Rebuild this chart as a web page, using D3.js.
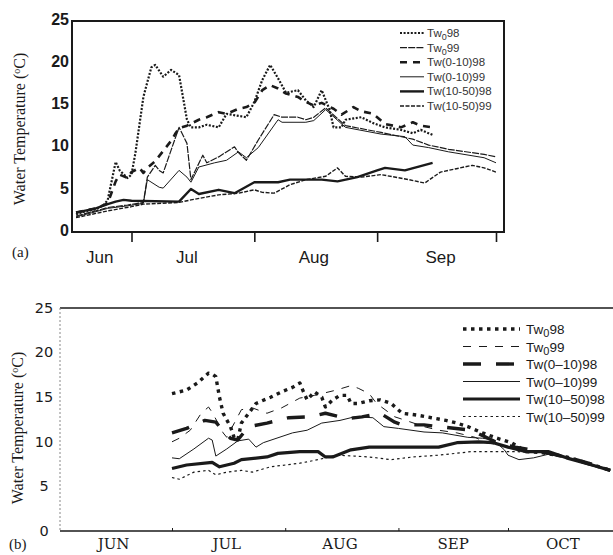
<!DOCTYPE html>
<html><head><meta charset="utf-8">
<script src="https://cdn.jsdelivr.net/npm/d3@7"></script>
<style>body{margin:0;background:#fff}svg{display:block}</style>
</head><body>
<script>
const parse = d3.timeParse("%m-%d");

// ---------- Panel (a) data ----------
const a_Tw0_98 = [["06-17",2.1],["06-19",2.4],["06-22",2.7],["06-24",3.2],["06-25",3.8],["06-27",8.3],["06-28",7.3],["06-30",6.4],["07-01",6.8],["07-02",9.4],["07-04",16.0],["07-06",19.5],["07-07",19.8],["07-09",18.4],["07-11",19.2],["07-13",18.6],["07-15",13.3],["07-16",12.4],["07-18",12.4],["07-20",12.7],["07-23",12.4],["07-25",14.0],["07-30",13.6],["08-01",15.4],["08-03",18.0],["08-05",19.8],["08-07",18.2],["08-09",16.5],["08-12",16.8],["08-14",15.6],["08-16",14.8],["08-18",16.8],["08-20",14.5],["08-21",12.4],["08-23",12.4],["08-24",13.3],["08-28",13.6],["08-31",12.9],["09-03",12.4],["09-07",12.1],["09-10",11.7],["09-12",12.1],["09-15",11.5]];
const a_Tw0_99 = [["06-17",1.9],["06-22",2.5],["06-25",2.9],["06-30",3.2],["07-04",3.5],["07-05",6.5],["07-07",7.9],["07-08",7.3],["07-09",7.0],["07-11",9.7],["07-13",12.4],["07-15",10.5],["07-16",6.2],["07-19",9.1],["07-20",8.2],["07-23",8.9],["07-27",10.1],["07-28",9.4],["07-30",8.5],["08-02",10.9],["08-06",13.9],["08-08",13.6],["08-12",13.6],["08-14",13.3],["08-16",13.6],["08-19",14.7],["08-24",12.6],["09-02",11.8],["09-10",11.0],["09-14",10.3],["09-19",9.8],["09-28",9.2],["10-01",8.9]];
const a_Tw010_98 = [["06-17",2.3],["06-22",2.8],["06-25",3.4],["06-27",6.0],["06-28",6.8],["06-30",6.4],["07-01",7.1],["07-03",7.6],["07-04",7.0],["07-05",7.6],["07-07",8.4],["07-09",9.6],["07-11",10.8],["07-12",11.6],["07-13",12.3],["07-15",12.6],["07-18",13.3],["07-20",13.6],["07-23",14.2],["07-25",14.0],["07-28",14.6],["07-30",14.8],["08-01",15.3],["08-03",16.8],["08-05",17.4],["08-07",17.0],["08-09",16.4],["08-12",16.0],["08-14",15.4],["08-16",15.0],["08-18",15.3],["08-21",14.6],["08-23",13.9],["08-26",14.8],["08-28",14.3],["08-31",14.0],["09-03",12.8],["09-07",12.4],["09-10",13.0],["09-12",12.6],["09-15",12.4]];
const a_Tw010_99 = [["06-17",1.8],["06-22",2.4],["06-25",2.8],["06-30",3.1],["07-04",3.4],["07-05",6.2],["07-08",5.3],["07-09",5.2],["07-13",7.3],["07-15",6.5],["07-16",5.9],["07-18",7.7],["07-22",8.2],["07-25",8.5],["07-28",9.5],["07-30",8.8],["08-02",10.0],["08-07",13.3],["08-08",13.0],["08-14",13.0],["08-16",13.2],["08-19",14.5],["08-24",12.4],["09-02",11.6],["09-08",11.3],["09-10",10.3],["09-14",10.0],["09-19",9.5],["09-28",8.8],["10-01",8.2]];
const a_Tw1050_98 = [["06-17",2.3],["06-22",2.8],["06-25",3.3],["06-27",3.6],["06-29",3.8],["07-01",3.7],["07-13",3.6],["07-16",5.1],["07-18",4.5],["07-23",5.0],["07-27",4.6],["08-01",5.9],["08-07",5.9],["08-10",6.2],["08-18",6.2],["08-22",6.0],["08-27",6.5],["09-01",7.3],["09-03",7.6],["09-08",7.3],["09-15",8.2]];
const a_Tw1050_99 = [["06-17",1.7],["06-22",2.2],["06-25",2.5],["07-01",3.0],["07-04",3.3],["07-13",3.5],["07-16",3.8],["07-23",4.4],["07-28",4.6],["08-01",5.0],["08-03",4.7],["08-06",4.6],["08-10",5.6],["08-14",6.2],["08-19",6.6],["08-22",7.6],["08-24",6.6],["08-28",6.5],["09-02",6.8],["09-09",6.2],["09-13",5.8],["09-17",7.1],["09-21",7.5],["09-25",7.9],["09-28",7.6],["10-01",7.1]];

// ---------- Panel (b) data ----------
const b_Tw0_98 = [["07-01",15.4],["07-05",15.8],["07-08",16.6],["07-11",17.7],["07-12",17.6],["07-13",17.3],["07-14",15.0],["07-15",13.2],["07-17",11.7],["07-18",10.5],["07-19",10.2],["07-20",12.1],["07-22",13.2],["07-24",14.3],["07-28",15.0],["07-31",15.6],["08-03",16.1],["08-05",16.6],["08-06",15.6],["08-07",14.7],["08-09",15.6],["08-11",15.0],["08-12",13.9],["08-14",14.7],["08-16",15.2],["08-18",15.2],["08-19",14.3],["08-21",14.3],["08-24",14.6],["08-27",14.7],["08-30",14.3],["09-02",13.2],["09-06",13.0],["09-10",12.7],["09-14",12.4],["09-17",12.1],["09-20",11.7],["09-24",11.0],["09-28",10.4],["10-02",9.9],["10-06",8.9],["10-10",8.8],["10-17",8.3],["10-23",7.6],["10-26",7.2],["10-29",6.8]];
const b_Tw0_99 = [["07-01",10.0],["07-03",10.4],["07-06",11.3],["07-09",13.2],["07-11",13.9],["07-12",13.3],["07-14",11.8],["07-15",11.0],["07-16",10.5],["07-20",13.6],["07-23",13.8],["07-27",13.2],["07-31",13.8],["08-05",14.9],["08-09",15.2],["08-15",15.8],["08-19",16.3],["08-21",16.0],["08-24",15.4],["08-26",14.3],["08-31",12.8],["09-03",12.4],["09-08",11.7],["09-12",11.3],["09-17",11.0],["09-22",10.5],["09-25",9.9],["10-02",9.4],["10-10",8.8],["10-17",8.2],["10-23",7.5],["10-29",6.8]];
const b_Tw010_98 = [["07-01",11.0],["07-05",11.5],["07-10",12.4],["07-13",12.2],["07-15",11.2],["07-17",10.4],["07-19",10.2],["07-22",11.7],["07-27",12.1],["08-02",12.7],["08-08",12.8],["08-12",13.2],["08-18",12.6],["08-22",12.8],["08-27",13.2],["08-31",12.2],["09-02",11.9],["09-08",11.9],["09-12",11.7],["09-21",11.3],["09-25",10.5],["09-28",9.9],["10-03",9.4],["10-10",8.9],["10-17",8.3],["10-23",7.6],["10-29",6.8]];
const b_Tw010_99 = [["07-01",8.2],["07-03",8.1],["07-07",9.2],["07-11",10.4],["07-12",10.2],["07-13",8.4],["07-16",9.2],["07-19",10.1],["07-22",10.3],["07-24",9.4],["07-26",9.9],["08-03",11.0],["08-07",11.3],["08-11",12.1],["08-16",12.4],["08-20",12.8],["08-25",12.7],["08-28",11.7],["09-01",11.5],["09-08",11.1],["09-13",11.0],["09-20",10.5],["09-24",10.4],["09-27",10.2],["09-30",9.1],["10-01",8.5],["10-04",8.0],["10-08",8.2],["10-12",8.6],["10-17",8.2],["10-23",7.4],["10-29",6.8]];
const b_Tw1050_98 = [["07-01",7.0],["07-05",7.4],["07-12",7.7],["07-14",7.2],["07-18",7.6],["07-20",8.0],["07-27",8.3],["07-30",8.7],["08-05",8.9],["08-10",8.9],["08-12",8.3],["08-14",8.3],["08-19",9.1],["08-24",9.4],["08-29",9.4],["09-05",9.4],["09-12",9.4],["09-17",9.9],["09-23",10.0],["09-27",9.9],["10-01",9.4],["10-06",8.9],["10-12",8.9],["10-17",8.2],["10-24",7.4],["10-29",6.8]];
const b_Tw1050_99 = [["07-01",6.0],["07-03",5.8],["07-07",6.6],["07-11",6.8],["07-13",6.3],["07-16",6.6],["07-20",6.8],["07-23",6.6],["07-28",7.2],["08-05",7.6],["08-10",8.0],["08-15",8.5],["08-20",8.4],["08-24",8.3],["08-30",8.0],["09-05",8.3],["09-12",8.5],["09-21",8.9],["09-28",8.9],["10-03",8.9],["10-10",8.8],["10-17",8.2],["10-23",7.5],["10-29",6.8]];

// ---------- labels ----------
const legendA = [["Tw","0","98"],["Tw","0","99"],["Tw(0-10)98"],["Tw(0-10)99"],["Tw(10-50)98"],["Tw(10-50)99"]];
const legendB = [["Tw","0","98"],["Tw","0","99"],["Tw(0\u201310)98"],["Tw(0\u201310)99"],["Tw(10\u201350)98"],["Tw(10\u201350)99"]];
const yTicks = [0,5,10,15,20,25];
const monthTicks = ["07-01","08-01","09-01","10-01"];
const monthLabelsA = [["06-23","Jun"],["07-15","Jul"],["08-16","Aug"],["09-17","Sep"]];
const monthLabelsB = [["06-15","JUN"],["07-16","JUL"],["08-16","AUG"],["09-16","SEP"],["10-16","OCT"]];

const W = 613, H = 555;
const svg = d3.select("body").append("svg").attr("width", W).attr("height", H);
const ink = "#1a1a1a";

// ================= Panel (a) =================
const A = {l:72, r:504, t:21, b:232};
const xa = d3.scaleTime().domain([parse("07-01"), parse("10-01")]).range([131.5, 496]);
const ya = d3.scaleLinear().domain([0,25]).range([A.b, A.t]);
const ga = svg.append("g");
ga.append("defs").append("clipPath").attr("id","clipA").append("rect")
  .attr("x",A.l).attr("y",A.t).attr("width",A.r-A.l).attr("height",A.b-A.t);

const stylesA = [
  {w:2.2, d:"2,1.6"},
  {w:1.2, d:"7,1.2"},
  {w:2.6, d:"7,6"},
  {w:1.0, d:null},
  {w:2.4, d:null},
  {w:1.4, d:"4,1.5"}
];
const seriesA = [a_Tw0_98, a_Tw0_99, a_Tw010_98, a_Tw010_99, a_Tw1050_98, a_Tw1050_99];
const lineA = d3.line().x(d => xa(parse(d[0]))).y(d => ya(d[1]));
const pa = ga.append("g").attr("clip-path","url(#clipA)");
[5,4,3,1,2,0].forEach(i => {
  pa.append("path").datum(seriesA[i]).attr("d", lineA)
    .attr("fill","none").attr("stroke",ink).attr("stroke-width",stylesA[i].w)
    .attr("stroke-dasharray",stylesA[i].d).attr("stroke-linejoin","round");
});

ga.append("rect").attr("x",A.l).attr("y",A.t).attr("width",A.r-A.l).attr("height",A.b-A.t)
  .attr("fill","none").attr("stroke",ink).attr("stroke-width",2);

// x axis ticks (a)
const axA = ga.append("g").attr("transform",`translate(0,${A.b})`)
  .call(d3.axisBottom(xa).tickValues(monthTicks.map(parse)).tickSize(10).tickFormat(""));
axA.select(".domain").remove();
axA.selectAll(".tick line").attr("stroke",ink).attr("stroke-width",1.6);
ga.selectAll(".mla").data(monthLabelsA).enter().append("text")
  .attr("x", d => xa(parse(d[0]))).attr("y", 263)
  .attr("text-anchor","middle").attr("font-family","Liberation Sans, Arial, sans-serif")
  .attr("font-size",17).attr("fill",ink).text(d => d[1]);

// y axis labels (a)
const ayA = ga.append("g").attr("transform",`translate(${A.l-3},0)`)
  .call(d3.axisLeft(ya).tickValues(yTicks).tickSize(0).tickPadding(0));
ayA.select(".domain").remove();
ayA.selectAll(".tick text").attr("font-family","Liberation Sans, Arial, sans-serif")
  .attr("font-weight","bold").attr("font-size",16).attr("fill",ink).attr("dy","0.2em");

ga.append("text").attr("transform","translate(25,129) rotate(-90)")
  .attr("text-anchor","middle").attr("font-family","Liberation Serif, Times New Roman, serif")
  .attr("font-size",16).attr("fill",ink)
  .call(t => { t.append("tspan").text("Water Temperature (");
               t.append("tspan").attr("baseline-shift","super").attr("font-size",10).text("o");
               t.append("tspan").text("C)"); });
ga.append("text").attr("x",12).attr("y",257).attr("font-family","Liberation Serif, Times New Roman, serif")
  .attr("font-size",15).attr("fill",ink).text("(a)");

// legend (a)
const lgA = ga.append("g");
legendA.forEach((lab, i) => {
  const yy = 33 + i*14.6;
  lgA.append("line").attr("x1",400).attr("x2",424).attr("y1",yy).attr("y2",yy)
    .attr("stroke",ink).attr("stroke-width",stylesA[i].w).attr("stroke-dasharray",stylesA[i].d);
  const t = lgA.append("text").attr("x",427).attr("y",yy+4)
    .attr("font-family","Liberation Sans, Arial, sans-serif").attr("font-size",11.5).attr("fill","#333");
  if (lab.length === 3) {
    t.append("tspan").text(lab[0]);
    t.append("tspan").attr("baseline-shift","-30%").attr("font-size",9).text(lab[1]);
    t.append("tspan").text(lab[2]);
  } else t.text(lab[0]);
});

// ================= Panel (b) =================
const B = {l:60, r:616, t:308, b:531};
const xb = d3.scaleTime().domain([parse("07-01"), parse("10-01")]).range([172, 508]);
const yb = d3.scaleLinear().domain([0,25]).range([B.b, B.t]);
const gb = svg.append("g");

const stylesB = [
  {w:3.4, d:"3.5,4.5"},
  {w:1.0, d:"8,8"},
  {w:3.4, d:"18,15"},
  {w:1.0, d:null},
  {w:3.2, d:null},
  {w:1.2, d:"2.5,3"}
];
const seriesB = [b_Tw0_98, b_Tw0_99, b_Tw010_98, b_Tw010_99, b_Tw1050_98, b_Tw1050_99];
const lineB = d3.line().x(d => xb(parse(d[0]))).y(d => yb(d[1]));
[5,4,3,1,2,0].forEach(i => {
  gb.append("path").datum(seriesB[i]).attr("d", lineB)
    .attr("fill","none").attr("stroke",ink).attr("stroke-width",stylesB[i].w)
    .attr("stroke-dasharray",stylesB[i].d).attr("stroke-linejoin","round");
});

gb.append("line").attr("x1",B.l).attr("x2",B.r).attr("y1",B.t).attr("y2",B.t)
  .attr("stroke",ink).attr("stroke-width",1.6);
gb.append("line").attr("x1",B.l).attr("x2",B.r).attr("y1",B.b).attr("y2",B.b)
  .attr("stroke",ink).attr("stroke-width",1.6);
gb.append("line").attr("x1",B.l).attr("x2",B.l).attr("y1",B.t).attr("y2",B.b)
  .attr("stroke","#888").attr("stroke-width",1).attr("stroke-dasharray","2,2");

const axB = gb.append("g").attr("transform",`translate(0,${B.b})`)
  .call(d3.axisTop(xb).tickValues(monthTicks.map(parse)).tickSize(3).tickFormat(""));
axB.select(".domain").remove();
axB.selectAll(".tick line").attr("stroke",ink).attr("stroke-width",1);
gb.selectAll(".mlb").data(monthLabelsB).enter().append("text")
  .attr("x", d => xb(parse(d[0]))).attr("y", 549)
  .attr("text-anchor","middle").attr("font-family","DejaVu Serif, serif")
  .attr("font-size",15).attr("fill",ink).text(d => d[1]);

const ayB = gb.append("g").attr("transform",`translate(44,0)`)
  .call(d3.axisLeft(yb).tickValues(yTicks).tickSize(0).tickPadding(0));
ayB.select(".domain").remove();
ayB.selectAll(".tick text").attr("text-anchor","middle").attr("font-family","DejaVu Sans, sans-serif")
  .attr("font-size",14.5).attr("fill",ink).attr("dy","0.3em");

gb.append("text").attr("transform","translate(23,428) rotate(-90)")
  .attr("text-anchor","middle").attr("font-family","Liberation Serif, Times New Roman, serif")
  .attr("font-size",16).attr("fill",ink)
  .call(t => { t.append("tspan").text("Water Temperature (");
               t.append("tspan").attr("baseline-shift","super").attr("font-size",10).text("o");
               t.append("tspan").text("C)"); });
gb.append("text").attr("x",9).attr("y",549).attr("font-family","Liberation Serif, Times New Roman, serif")
  .attr("font-size",15).attr("fill",ink).text("(b)");

const lgB = gb.append("g");
legendB.forEach((lab, i) => {
  const yy = 329 + i*17.5;
  lgB.append("line").attr("x1",463).attr("x2",520).attr("y1",yy).attr("y2",yy)
    .attr("stroke",ink).attr("stroke-width",stylesB[i].w).attr("stroke-dasharray",stylesB[i].d);
  const t = lgB.append("text").attr("x",526).attr("y",yy+5)
    .attr("font-family","Liberation Sans, Arial, sans-serif").attr("font-size",13.5).attr("fill",ink);
  if (lab.length === 3) {
    t.append("tspan").text(lab[0]);
    t.append("tspan").attr("baseline-shift","-30%").attr("font-size",11).text(lab[1]);
    t.append("tspan").text(lab[2]);
  } else t.text(lab[0]);
});
</script>
</body></html>
